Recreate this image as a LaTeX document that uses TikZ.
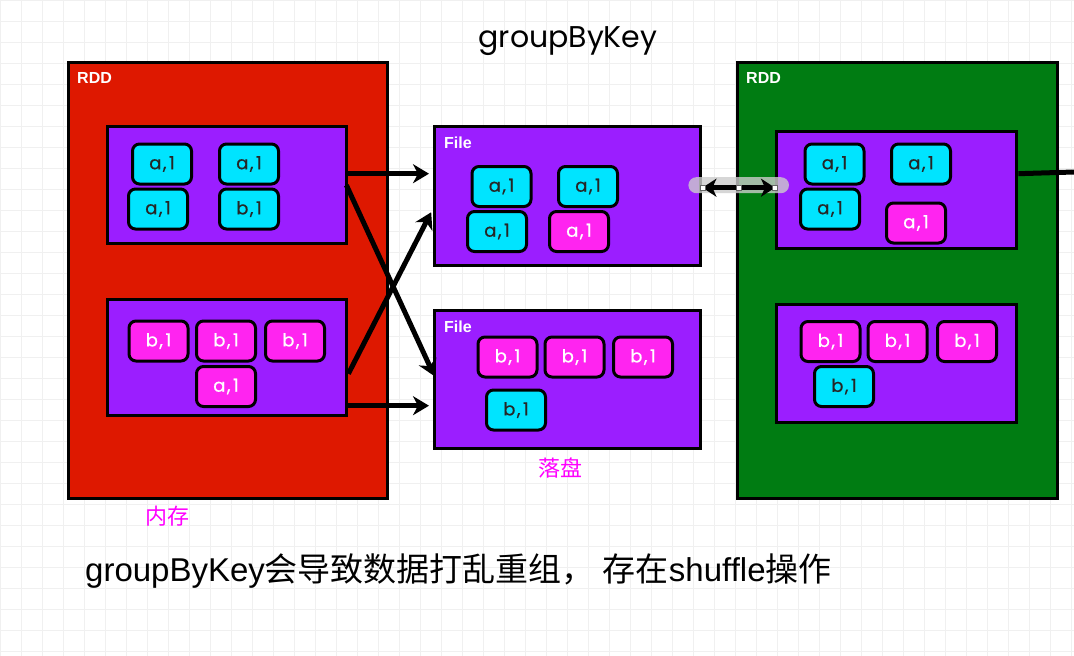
\documentclass[tikz,border=0pt]{standalone}
\usepackage{fontspec}
\setmainfont{Liberation Sans}
\newfontfamily\cjk{Noto Sans CJK SC}
\newfontfamily\boxfont{Poppins}[FakeBold=0.6]
\newfontfamily\titlefont{Poppins}
\usetikzlibrary{arrows.meta,calc}
\definecolor{rddred}{RGB}{222,24,0}
\definecolor{rddgreen}{RGB}{0,124,18}
\definecolor{part}{RGB}{155,30,255}
\definecolor{cyanc}{RGB}{0,228,255}
\definecolor{magc}{RGB}{255,36,240}
\definecolor{labmag}{RGB}{255,0,255}
\newcommand{\kvt}[1]{#1\kern1.5pt,\kern2.5pt1}
\begin{document}
\begin{tikzpicture}[x=1pt,y=-1pt,
  container/.style={draw=black, line width=3.4pt, anchor=north west, inner sep=0pt},
  partbox/.style={draw=black, line width=3.4pt, fill=part, anchor=north west, inner sep=0pt},
  kv/.style={draw=black, line width=3pt, rounded corners=7pt, minimum width=59pt, minimum height=40pt, inner sep=0pt, font=\boxfont\fontsize{18}{18}\selectfont},
  cy/.style={kv, fill=cyanc, text=black!85},
  mg/.style={kv, fill=magc, text=white},
  tag/.style={anchor=west, text=white, font=\bfseries\fontsize{16}{16}\selectfont, inner sep=0pt},
  note/.style={text=labmag, font=\cjk\fontsize{22}{22}\selectfont, inner sep=0pt},
  arr/.style={line width=5pt, -{Stealth[length=16pt,width=19pt,inset=5pt]}, shorten >=4pt},
  darr/.style={line width=5pt, {Stealth[length=14pt,width=18pt,inset=4pt]}-{Stealth[length=14pt,width=18pt,inset=4pt]}},
  handle/.style={fill=white, draw=black!60, line width=0.4pt}
]
\useasboundingbox (0,0) rectangle (1074,656);
\fill[white] (0,0) rectangle (1074,656);
\draw[black!6, line width=0.6pt, step=21pt] (0,0) grid (1074,656);

% title
\node[font=\titlefont\fontsize{30}{30}\selectfont, inner sep=0pt] (title) at (568,41) {groupByKey};

% red RDD
\node[container, fill=rddred, minimum width=319pt, minimum height=436pt] (red) at (67,61) {};
\node[tag] (redlab) at (77,78) {RDD};
\node[partbox, minimum width=239pt, minimum height=117pt] (p1) at (106,125) {};
\node[partbox, minimum width=239pt, minimum height=116pt] (p2) at (106,298) {};
\node[cy] (p1a) at (162,164) {\kvt{a}};
\node[cy] (p1b) at (249,164) {\kvt{a}};
\node[cy] (p1c) at (158,209) {\kvt{a}};
\node[cy] (p1d) at (249,209) {\kvt{b}};
\node[mg] (p2a) at (158.5,341) {\kvt{b}};
\node[mg] (p2b) at (226,341) {\kvt{b}};
\node[mg] (p2c) at (295,341) {\kvt{b}};
\node[mg] (p2d) at (226,386.5) {\kvt{a}};
\node[note] (mem) at (167,516) {内存};

% files
\node[partbox, minimum width=266pt, minimum height=139pt] (f1) at (433,125) {};
\node[tag] (f1lab) at (444,143) {File};
\node[cy] (f1a) at (501.5,186.5) {\kvt{a}};
\node[cy] (f1b) at (588,186.5) {\kvt{a}};
\node[cy] (f1c) at (497,231.5) {\kvt{a}};
\node[mg] (f1d) at (579,231.5) {\kvt{a}};
\node[partbox, minimum width=266pt, minimum height=138pt] (f2) at (433,309) {};
\node[tag] (f2lab) at (444,327) {File};
\node[mg] (f2a) at (507.5,357) {\kvt{b}};
\node[mg] (f2b) at (574.5,357) {\kvt{b}};
\node[mg] (f2c) at (643,357) {\kvt{b}};
\node[cy] (f2d) at (516,410) {\kvt{b}};
\node[note] (disk) at (560,468) {落盘};

% green RDD
\node[container, fill=rddgreen, minimum width=320pt, minimum height=436pt] (green) at (736,61) {};
\node[tag] (greenlab) at (746,78) {RDD};
\node[partbox, minimum width=240pt, minimum height=117pt] (g1) at (775,130) {};
\node[partbox, minimum width=240pt, minimum height=118pt] (g2) at (775,303) {};
\node[cy] (g1a) at (834.5,164) {\kvt{a}};
\node[cy] (g1b) at (921,164) {\kvt{a}};
\node[cy] (g1c) at (830,209) {\kvt{a}};
\node[mg] (g1d) at (916,223) {\kvt{a}};
\node[mg] (g2a) at (830.5,341.5) {\kvt{b}};
\node[mg] (g2b) at (897.5,341.5) {\kvt{b}};
\node[mg] (g2c) at (967,341.5) {\kvt{b}};
\node[cy] (g2d) at (844,386.5) {\kvt{b}};

% connectors
\draw[arr] ([yshift=11.5pt]p1.east) -- ([yshift=22.5pt]f1.west);
\draw[arr] ([xshift=-2pt]p1.east) -- ([xshift=3pt]f2.west);
\draw[arr] ([yshift=-16pt]p2.east) -- ([yshift=-12.5pt]f1.west);
\draw[arr] ([yshift=-48pt]p2.east) -- ([yshift=-26pt]f2.west);

% selected double arrow
\fill[black!20, opacity=0.8, rounded corners=8pt] ([yshift=19pt,xshift=-14pt]f1.east) rectangle ([yshift=-3pt,xshift=14pt]g1.west);
\draw[darr] ([yshift=8.5pt]f1.east) -- ([yshift=2.5pt]g1.west);
\coordinate (mid) at ($([yshift=8.5pt]f1.east)!0.5!([yshift=2.5pt]g1.west)$);
\fill[handle] ([yshift=8.5pt]f1.east) ++(-2.5,-2.5) rectangle ++(5,5);
\fill[handle] ([yshift=2.5pt]g1.west) ++(-2.5,-2.5) rectangle ++(5,5);
\fill[handle] (mid) ++(-2.5,-2.5) rectangle ++(5,5);

\coordinate (rightend) at (1074,172);
\draw[line width=5pt] ([yshift=16.5pt]g1.east) -- (rightend);

% bottom text
\node[anchor=west, inner sep=0pt, font=\fontsize{33}{33}\selectfont] (caption) at (85,571)
  {groupByKey{\cjk 会导致数据打乱重组，}\hspace{8pt}{\cjk 存在}shuffle{\cjk 操作}};
\end{tikzpicture}
\end{document}
